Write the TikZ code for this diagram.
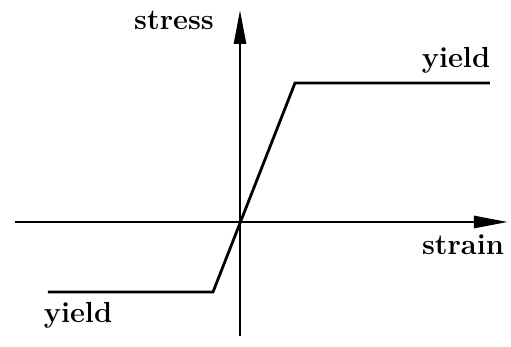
\documentclass[tikz,border=0pt]{standalone}
\usetikzlibrary{arrows.meta}
\begin{document}
\begin{tikzpicture}[x=0.5pt,y=-0.5pt,
    every node/.style={font=\fontsize{14.5}{17}\selectfont\bfseries},
    axis/.style={line width=1.4pt, -{Triangle[length=17pt,width=6pt]}},
    law/.style={line width=1.4pt, line join=miter},
    lbl/.style={anchor=base, inner sep=0pt}
  ]
  \useasboundingbox (0,0) rectangle (511,347);

  % axes
  \coordinate (xl) at (15,222);
  \coordinate (xr) at (508,222);
  \coordinate (yb) at (240,336);
  \coordinate (yt) at (240,10);
  \draw[axis] (xl) -- (xr);
  \draw[axis] (yb) -- (yt);

  % stress-strain law
  \coordinate (c0) at (48,292);
  \coordinate (c1) at (213,292);
  \coordinate (c2) at (295,83);
  \coordinate (c3) at (490,83);
  \draw[law] (c0) -- (c1) -- (c2) -- (c3);

  % labels
  \node[lbl] (stress) at (174,30) {stress};
  \node[lbl] (strain) at (463,255) {strain};
  \node[lbl] (yieldt) at (456,68) {yield};
  \node[lbl] (yieldb) at (78,323) {yield};
\end{tikzpicture}
\end{document}
